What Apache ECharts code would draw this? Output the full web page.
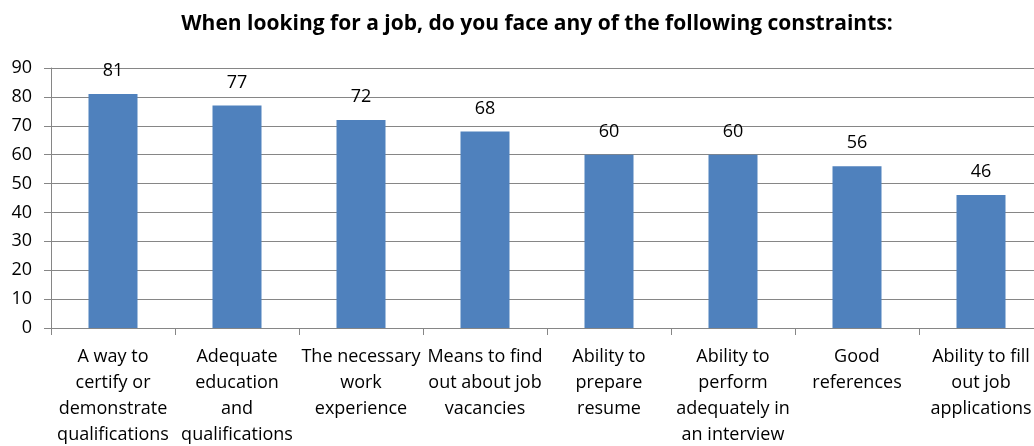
<!DOCTYPE html>
<html>
<head>
<meta charset="utf-8">
<script src="https://cdn.jsdelivr.net/npm/echarts@6/dist/echarts.min.js"></script>
<style>
  html, body { margin: 0; padding: 0; background: #ffffff; }
  #chart { width: 1034px; height: 446px; }
</style>
</head>
<body>
<div id="chart"></div>
<script>
// Survey: constraints faced when looking for a job (percent of respondents)
const titleText = 'When looking for a job, do you face any of the following constraints:';

const categories = [
  'A way to\ncertify or\ndemonstrate\nqualifications',
  'Adequate\neducation\nand\nqualifications',
  'The necessary\nwork\nexperience',
  'Means to find\nout about job\nvacancies',
  'Ability to\nprepare\nresume',
  'Ability to\nperform\nadequately in\nan interview',
  'Good\nreferences',
  'Ability to fill\nout job\napplications'
];

const values = [81, 77, 72, 68, 60, 60, 56, 46];

const yMin = 0;
const yMax = 90;
const yStep = 10;

const FONT = '"Open Sans", "Liberation Sans", sans-serif';
const GRID_COLOR = '#868686';

const chart = echarts.init(document.getElementById('chart'), null, { renderer: 'canvas' });

chart.setOption({
  backgroundColor: '#ffffff',
  animation: false,
  title: {
    text: titleText,
    left: 532,
    top: 9,
    textAlign: 'center',
    textStyle: {
      fontFamily: FONT,
      fontSize: 21,
      fontWeight: 'bold',
      color: '#000000'
    }
  },
  grid: {
    left: 51,
    top: 68,
    width: 992,
    height: 260,
    outerBoundsMode: 'none',
    containLabel: false
  },
  xAxis: {
    type: 'category',
    data: categories,
    axisLine: { show: true, lineStyle: { color: GRID_COLOR, width: 1 } },
    axisTick: { show: true, length: 7, alignWithLabel: false, lineStyle: { color: GRID_COLOR } },
    axisLabel: {
      interval: 0,
      margin: 16,
      fontFamily: FONT,
      fontSize: 18,
      lineHeight: 26,
      color: '#000000',
      align: 'center'
    }
  },
  yAxis: {
    type: 'value',
    min: yMin,
    max: yMax,
    interval: yStep,
    axisLine: { show: true, lineStyle: { color: GRID_COLOR, width: 1 } },
    axisTick: { show: true, length: 7, lineStyle: { color: GRID_COLOR } },
    splitLine: { show: true, lineStyle: { color: GRID_COLOR, width: 1 } },
    axisLabel: {
      margin: 19,
      fontFamily: FONT,
      fontSize: 18,
      color: '#000000'
    }
  },
  series: [{
    type: 'bar',
    data: values,
    barWidth: 49,
    itemStyle: { color: '#4F81BD' },
    label: {
      show: true,
      position: 'top',
      distance: 14,
      fontFamily: FONT,
      fontSize: 18,
      color: '#000000'
    }
  }]
});
</script>
</body>
</html>
